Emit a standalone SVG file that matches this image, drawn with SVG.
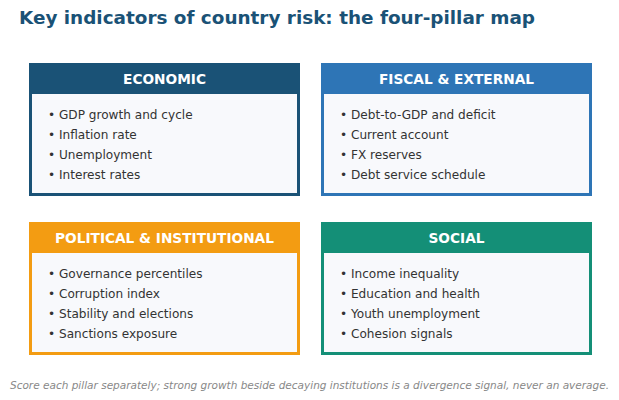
<svg xmlns="http://www.w3.org/2000/svg" width="619" height="400" viewBox="0 0 619 400">
<style>
.title{font-family:"DejaVu Sans",sans-serif;font-weight:bold;font-size:18.4px;fill:#1a5276}
.body{fill:#f8f9fc;stroke-width:3}
.head{font-family:"DejaVu Sans",sans-serif;font-weight:bold;font-size:13.7px;fill:#ffffff;text-anchor:middle}
.item{font-family:"DejaVu Sans",sans-serif;font-size:12.1px;fill:#333333}
.foot{font-family:"DejaVu Sans",sans-serif;font-style:italic;font-size:10.3px;fill:#888888}
</style>
<rect width="619" height="400" fill="#ffffff"/>
<text class="title" x="19" y="24">Key indicators of country risk: the four-pillar map</text>
<g id="economic">
<rect class="body" x="30.5" y="64.5" width="268" height="130" stroke="#1a5276"/>
<rect x="29" y="63" width="271" height="31" fill="#1a5276"/>
<text class="head" x="164.5" y="84">ECONOMIC</text>
<text class="item" x="48" y="119">• GDP growth and cycle</text>
<text class="item" x="48" y="139">• Inflation rate</text>
<text class="item" x="48" y="159">• Unemployment</text>
<text class="item" x="48" y="179">• Interest rates</text>
</g>
<g id="fiscal">
<rect class="body" x="322.5" y="64.5" width="268" height="130" stroke="#2e75b6"/>
<rect x="321" y="63" width="271" height="31" fill="#2e75b6"/>
<text class="head" x="456.5" y="84">FISCAL &amp; EXTERNAL</text>
<text class="item" x="340" y="119">• Debt-to-GDP and deficit</text>
<text class="item" x="340" y="139">• Current account</text>
<text class="item" x="340" y="159">• FX reserves</text>
<text class="item" x="340" y="179">• Debt service schedule</text>
</g>
<g id="political">
<rect class="body" x="30.5" y="223.5" width="268" height="130" stroke="#f39c12"/>
<rect x="29" y="222" width="271" height="31" fill="#f39c12"/>
<text class="head" x="164.5" y="243">POLITICAL &amp; INSTITUTIONAL</text>
<text class="item" x="48" y="278">• Governance percentiles</text>
<text class="item" x="48" y="298">• Corruption index</text>
<text class="item" x="48" y="318">• Stability and elections</text>
<text class="item" x="48" y="338">• Sanctions exposure</text>
</g>
<g id="social">
<rect class="body" x="322.5" y="223.5" width="268" height="130" stroke="#148f77"/>
<rect x="321" y="222" width="271" height="31" fill="#148f77"/>
<text class="head" x="456.5" y="243">SOCIAL</text>
<text class="item" x="340" y="278">• Income inequality</text>
<text class="item" x="340" y="298">• Education and health</text>
<text class="item" x="340" y="318">• Youth unemployment</text>
<text class="item" x="340" y="338">• Cohesion signals</text>
</g>
<g id="connectors"/>
<text class="foot" x="10" y="389" textLength="599" lengthAdjust="spacingAndGlyphs">Score each pillar separately; strong growth beside decaying institutions is a divergence signal, never an average.</text>
</svg>
